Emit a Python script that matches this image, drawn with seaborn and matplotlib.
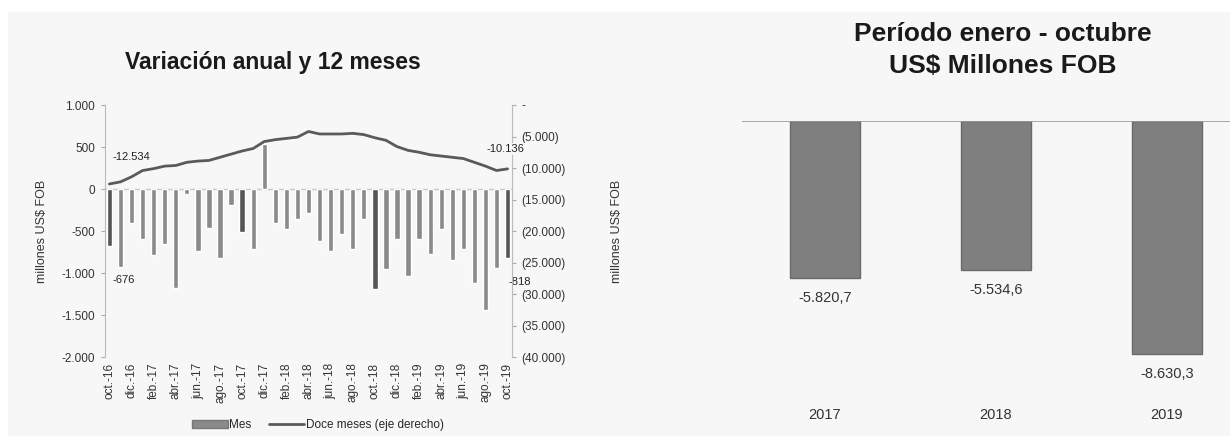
import matplotlib
matplotlib.use("Agg")
import matplotlib.pyplot as plt
from matplotlib.patches import Rectangle, Patch
from matplotlib.lines import Line2D
import seaborn as sns
import numpy as np

# datos: variación mensual y acumulado doce meses (oct-16 a oct-19)
meses = ["oct.-16", "nov.-16", "dic.-16", "ene.-17", "feb.-17", "mar.-17", "abr.-17", "may.-17",
         "jun.-17", "jul.-17", "ago.-17", "sept.-17", "oct.-17", "nov.-17", "dic.-17", "ene.-18",
         "feb.-18", "mar.-18", "abr.-18", "may.-18", "jun.-18", "jul.-18", "ago.-18", "sept.-18",
         "oct.-18", "nov.-18", "dic.-18", "ene.-19", "feb.-19", "mar.-19", "abr.-19", "may.-19",
         "jun.-19", "jul.-19", "ago.-19", "sept.-19", "oct.-19"]
mes = [-676, -930, -400, -600, -785, -655, -1180, -60, -740, -470, -820, -190, -510, -710, 540,
       -400, -475, -360, -280, -620, -740, -540, -720, -355, -1185, -950, -600, -1040, -590,
       -770, -480, -845, -720, -1120, -1440, -945, -818]
doce_meses = [-12534, -12200, -11400, -10400, -10100, -9700, -9600, -9100, -8900, -8800, -8300,
              -7800, -7300, -6900, -5800, -5500, -5300, -5100, -4200, -4600, -4600, -4600, -4500,
              -4700, -5200, -5600, -6600, -7200, -7500, -7900, -8100, -8300, -8500, -9100, -9700,
              -10400, -10136]

anios = ["2017", "2018", "2019"]
periodo = [-5820.7, -5534.6, -8630.3]
periodo_txt = ["-5.820,7", "-5.534,6", "-8.630,3"]

sns.set_style("white")
plt.rcParams['font.family'] = ['Liberation Sans', 'DejaVu Sans']

bg = "#f7f7f7"
txt = "#333333"
fs = 8.5
fig = plt.figure(figsize=(12.3, 4.36), dpi=100, facecolor="white")
fig.patches.append(Rectangle((8 / 1230, 0), 1, 1 - 12 / 436, transform=fig.transFigure,
                             facecolor=bg, edgecolor="none", zorder=-10))


def miles(v):
    s = f"{abs(v):,.0f}".replace(",", ".")
    return ("-" if v < 0 else "") + s


# ---------- grafico izquierdo ----------
ax = fig.add_axes([105 / 1230, 1 - 357 / 436, 407 / 1230, 252 / 436])
ax.set_facecolor(bg)
colores = ["#555555" if m.startswith("oct") else "#8a8a8a" for m in meses]
sns.barplot(x=meses, y=mes, hue=meses, palette=colores, legend=False, width=0.48,
            saturation=1, ax=ax, zorder=2)
ax.set_xlim(-0.4, 36.4)
ax.set_ylim(-2000, 1000)
ax.set_yticks([1000, 500, 0, -500, -1000, -1500, -2000])
ax.set_yticklabels([miles(v) for v in [1000, 500, 0, -500, -1000, -1500, -2000]], fontsize=fs,
                   color=txt)
ax.set_xticks(range(0, 37, 2))
ax.set_xticklabels(meses[::2], rotation=90, fontsize=fs, color=txt)
ax.tick_params(axis="x", length=0, pad=4)
ax.tick_params(axis="y", length=3, width=0.8, color="#aaaaaa", direction="out", left=True, pad=4)
ax.axhline(0, color="#c8c8c8", lw=1, zorder=1)
for s in ["top", "bottom", "right"]:
    ax.spines[s].set_visible(False)
ax.spines["left"].set_color("#bbbbbb")
ax.set_ylabel("millones US$ FOB", fontsize=9, labelpad=10, color=txt)

ax2 = ax.twinx()
sns.lineplot(x=np.arange(len(doce_meses)), y=doce_meses, color="#5a5a5a", lw=2, ax=ax2, zorder=3)
ax2.set_ylim(-40000, 0)
rt = [0, -5000, -10000, -15000, -20000, -25000, -30000, -35000, -40000]
ax2.set_yticks(rt)
ax2.set_yticklabels(["-"] + [f"({miles(-v)})" for v in rt[1:]], fontsize=fs, color=txt)
ax2.tick_params(axis="y", length=3, width=0.8, color="#aaaaaa", direction="out", right=True, pad=4)
for s in ["top", "bottom", "left"]:
    ax2.spines[s].set_visible(False)
ax2.spines["right"].set_color("#bbbbbb")
ax2.set_ylabel("millones US$ FOB", fontsize=9, labelpad=32, color=txt)

ax.annotate(miles(mes[0]), (0, mes[0]), xytext=(14, -34), textcoords="offset pixels",
            ha="center", va="center", fontsize=8, color="#222222")
ax.annotate(miles(mes[-1]), (36, mes[-1]), xytext=(12, -24), textcoords="offset pixels",
            ha="center", va="center", fontsize=8, color="#222222")
ax2.annotate(miles(doce_meses[0]), (0, doce_meses[0]), xytext=(22, 27), textcoords="offset pixels",
             ha="center", va="center", fontsize=8, color="#222222",
             bbox=dict(facecolor=bg, edgecolor="none", pad=1))
ax2.annotate(miles(doce_meses[-1]), (36, doce_meses[-1]), xytext=(-2, 20), textcoords="offset pixels",
             ha="center", va="center", fontsize=8, color="#222222",
             bbox=dict(facecolor=bg, edgecolor="none", pad=1))

handles = [Patch(facecolor="#8a8a8a", edgecolor="#777777"),
           Line2D([0], [0], color="#5a5a5a", lw=2)]
fig.legend(handles, ["Mes", "Doce meses (eje derecho)"], loc="center", ncol=2,
           bbox_to_anchor=(318 / 1230, 1 - 425 / 436), frameon=False, fontsize=fs,
           handlelength=3, handleheight=0.6, columnspacing=1.5, handletextpad=0.1)

fig.text(273 / 1230, 1 - 62 / 436, "Variación anual y 12 meses", ha="center", va="center",
         fontsize=16.5, fontweight="bold", color="#1a1a1a")

# ---------- grafico derecho ----------
bx = fig.add_axes([742 / 1230, 1 - 391 / 436, 488 / 1230, 270 / 436])
bx.set_facecolor(bg)
sns.barplot(x=anios, y=periodo, color="#7f7f7f", saturation=1, width=0.41, ax=bx,
            edgecolor="#6a6a6a", linewidth=1, zorder=2)
bx.set_xlim(-0.485, 2.37)
bx.set_ylim(-10000, 0)
bx.axhline(0, color="#9a9a9a", lw=1.2, zorder=3)
for s in bx.spines.values():
    s.set_visible(False)
bx.set_yticks([])
bx.tick_params(axis="x", length=0, pad=12, labelsize=10.5, labelcolor=txt)
bx.set_xlabel("")
for i, (v, t) in enumerate(zip(periodo, periodo_txt)):
    bx.annotate(t, (i, v), xytext=(0, -20), textcoords="offset pixels", ha="center",
                va="center", fontsize=10.5, color=txt)

fig.text(1003 / 1230, 1 - 50 / 436, "Período enero - octubre\nUS$ Millones FOB", ha="center",
         va="center", fontsize=19, fontweight="bold", color="#1a1a1a", linespacing=1.45)

fig.savefig("out.png", dpi=100, facecolor=fig.get_facecolor())
